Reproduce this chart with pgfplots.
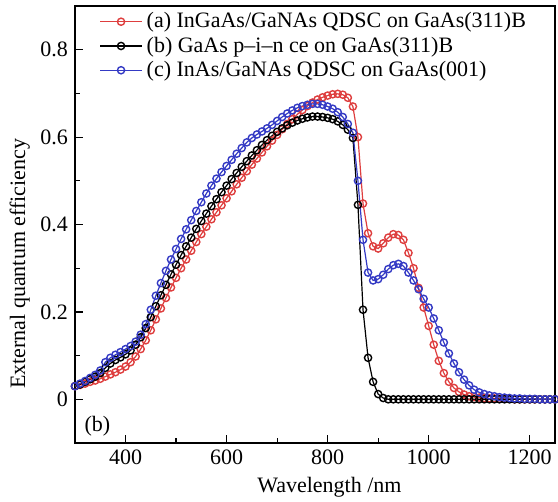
\documentclass[border=0pt]{standalone}
\usepackage{fontspec}
\setmainfont{Liberation Serif}
\usepackage{pgfplots}
\usepackage{pgfplotstable}
\pgfplotsset{compat=1.18}
\usetikzlibrary{calc}
\definecolor{qred}{RGB}{222,62,62}
\definecolor{qblue}{RGB}{52,58,196}

\pgfplotstableread{
x a b c
300 0.030 0.030 0.030
310 0.033 0.034 0.036
320 0.036 0.040 0.042
330 0.040 0.046 0.049
340 0.043 0.052 0.056
350 0.047 0.060 0.066
360 0.052 0.072 0.085
370 0.057 0.082 0.095
380 0.062 0.090 0.102
390 0.068 0.096 0.108
400 0.075 0.103 0.115
410 0.085 0.112 0.122
420 0.098 0.125 0.132
430 0.115 0.142 0.148
440 0.135 0.163 0.172
450 0.158 0.188 0.205
460 0.183 0.213 0.237
470 0.208 0.238 0.266
480 0.232 0.262 0.294
490 0.256 0.286 0.320
500 0.278 0.308 0.344
510 0.300 0.330 0.367
520 0.320 0.350 0.389
530 0.340 0.370 0.410
540 0.360 0.390 0.431
550 0.378 0.408 0.451
560 0.395 0.425 0.471
570 0.412 0.442 0.489
580 0.428 0.458 0.505
590 0.444 0.474 0.520
600 0.460 0.489 0.534
610 0.476 0.504 0.548
620 0.492 0.518 0.562
630 0.507 0.532 0.575
640 0.522 0.545 0.588
650 0.537 0.558 0.598
660 0.551 0.570 0.606
670 0.565 0.582 0.613
680 0.579 0.593 0.620
690 0.592 0.603 0.628
700 0.605 0.612 0.637
710 0.618 0.620 0.646
720 0.630 0.627 0.654
730 0.641 0.633 0.661
740 0.652 0.638 0.667
750 0.662 0.642 0.671
760 0.671 0.645 0.674
770 0.679 0.647 0.676
780 0.686 0.647 0.676
790 0.691 0.646 0.674
800 0.695 0.644 0.670
810 0.698 0.641 0.665
820 0.699 0.636 0.657
830 0.697 0.628 0.646
840 0.690 0.617 0.630
850 0.670 0.598 0.610
860 0.600 0.445 0.500
870 0.448 0.205 0.365
880 0.380 0.095 0.290
890 0.350 0.040 0.272
900 0.345 0.012 0.275
910 0.357 0.003 0.285
920 0.370 0.000 0.298
930 0.378 0.000 0.307
940 0.376 0.000 0.310
950 0.365 0.000 0.305
960 0.335 0.000 0.290
970 0.300 0.000 0.272
980 0.255 0.000 0.252
990 0.210 0.000 0.230
1000 0.168 0.000 0.210
1010 0.125 0.000 0.185
1020 0.088 0.000 0.158
1030 0.060 0.000 0.130
1040 0.040 0.000 0.105
1050 0.026 0.000 0.082
1060 0.017 0.000 0.062
1070 0.011 0.000 0.045
1080 0.007 0.000 0.032
1090 0.005 0.000 0.022
1100 0.004 0.000 0.016
1110 0.003 0.000 0.012
1120 0.002 0.000 0.009
1130 0.002 0.000 0.007
1140 0.001 0.000 0.005
1150 0.001 0.000 0.004
1160 0.001 0.000 0.003
1170 0.000 0.000 0.002
1180 0.000 0.000 0.002
1190 0.000 0.000 0.001
1200 0.000 0.000 0.001
1210 0.000 0.000 0.001
1220 0.000 0.000 0.000
1230 0.000 0.000 0.000
1240 0.000 0.000 0.000
1250 0.000 0.000 0.000
}\qedata

\begin{document}
\begin{tikzpicture}[font=\fontsize{11}{13}\selectfont]
\begin{axis}[
  scale only axis,
  width=240pt, height=218.5pt,
  xmin=300, xmax=1250, ymin=-0.1, ymax=0.9,
  xtick={400,600,...,1200}, minor x tick num=1,
  ytick={0,0.2,0.4,0.6,0.8}, minor y tick num=1,
  tick pos=left, tick align=inside,
  major tick length=4pt, minor tick length=2.5pt,
  every tick/.style={black, line width=0.6pt},
  axis line style={line width=0.8pt},
  /pgf/number format/assume math mode=true,
  yticklabel style={/pgf/number format/fixed, /pgf/number format/precision=1},
  xticklabel style={/pgf/number format/set thousands separator={}},
  xlabel={Wavelength /nm},
  ylabel={External quantum efficiency},
  every axis x label/.style={at={(axis description cs:0.53,-0.063)}, anchor=north},
  every axis y label/.style={at={(axis description cs:-0.115,0.41)}, rotate=90, anchor=center},
  legend style={draw=none, fill=none, at={(axis description cs:0.05,0.995)}, anchor=north west, inner sep=0pt, row sep=-1pt, font=\fontsize{11}{13}\selectfont},
  legend cell align=left,
  legend image code/.code={
    \draw[mark repeat=2, mark phase=2, #1] plot coordinates {(0cm,0cm) (0.37cm,0cm) (0.74cm,0cm)};
  },
  every axis plot/.append style={line width=0.6pt, mark=o, mark size=1.8pt, mark options={line width=0.7pt}},
]
\addplot[qred] table[x=x, y=a] {\qedata};
\addlegendentry{(a) InGaAs/GaNAs QDSC on GaAs(311)B}
\addplot[black] table[x=x, y=b] {\qedata};
\addlegendentry{(b) GaAs p--i--n ce on GaAs(311)B}
\addplot[qblue] table[x=x, y=c] {\qedata};
\addlegendentry{(c) InAs/GaNAs QDSC on GaAs(001)}
\node[anchor=south west] at (axis cs:305,-0.1) {(b)};
\end{axis}
\pgfresetboundingbox
\path[use as bounding box] ($(current axis.south west)+(-37.5pt,-29pt)$) rectangle ($(current axis.north east)+(1.5pt,3pt)$);
\end{tikzpicture}
\end{document}
